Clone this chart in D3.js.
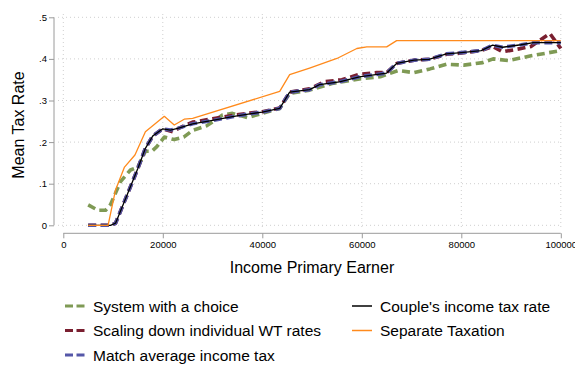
<!DOCTYPE html>
<html>
<head>
<meta charset="utf-8">
<script src="https://cdn.jsdelivr.net/npm/d3@7"></script>
<style>
  body { margin: 0; background: #fff; }
  svg { display: block; }
  text { font-family: "Liberation Sans", Arial, sans-serif; fill: #000; }
</style>
</head>
<body>
<svg id="chart" width="575" height="367"></svg>
<script>
// ---- data ----
const xTicks = [0, 20000, 40000, 60000, 80000, 100000];
const yTicks = [0, 0.1, 0.2, 0.3, 0.4, 0.5];
const yTickLabels = ["0", ".1", ".2", ".3", ".4", ".5"];

const choiceX = [5000, 7000, 8500, 9500, 11500, 13500, 15000, 16500, 17800, 18800, 20300, 22300, 24200, 26000, 28800, 32000, 34000, 37000, 40000, 43500, 45500, 49500, 54000, 59500, 63700, 67300, 70500, 73700, 77000, 80500, 84300, 86400, 89500, 93800, 100000];
const choiceY = [0.049, 0.036, 0.036, 0.05, 0.105, 0.133, 0.14, 0.178, 0.178, 0.189, 0.212, 0.206, 0.212, 0.228, 0.239, 0.265, 0.269, 0.259, 0.269, 0.281, 0.317, 0.325, 0.341, 0.352, 0.357, 0.372, 0.367, 0.376, 0.387, 0.385, 0.391, 0.4, 0.396, 0.407, 0.42];

const coupleX = [5000, 9500, 10500, 13000, 15000, 16500, 18000, 20000, 21500, 23000, 26000, 30000, 34000, 37500, 40000, 43500, 45500, 49500, 51500, 55500, 59500, 65000, 67000, 70500, 73500, 77000, 80000, 84000, 86300, 88300, 92000, 94500, 100000];
const coupleY = [0, 0, 0.005, 0.078, 0.137, 0.185, 0.215, 0.232, 0.229, 0.233, 0.244, 0.252, 0.261, 0.268, 0.272, 0.281, 0.32, 0.326, 0.338, 0.345, 0.357, 0.366, 0.389, 0.397, 0.399, 0.412, 0.415, 0.42, 0.433, 0.428, 0.434, 0.439, 0.439];

const matchX = [5000, 9500, 10500, 13000, 15000, 16500, 18000, 20000, 21500, 23000, 26000, 30000, 34000, 37500, 40000, 43500, 45500, 49500, 51500, 55500, 59500, 65000, 67000, 70500, 73500, 77000, 80000, 84000, 86300, 88300, 92000, 94500, 100000];
const matchY = [0, 0, 0.005, 0.078, 0.137, 0.185, 0.215, 0.232, 0.229, 0.233, 0.244, 0.252, 0.261, 0.268, 0.272, 0.281, 0.32, 0.326, 0.338, 0.345, 0.357, 0.366, 0.389, 0.397, 0.399, 0.412, 0.415, 0.42, 0.433, 0.428, 0.434, 0.439, 0.439];

const scalingX = [5000, 9500, 10500, 13000, 15000, 16500, 18000, 20000, 22000, 23500, 26000, 30000, 34000, 37500, 40000, 43500, 45500, 49500, 52500, 56000, 59500, 63000, 65000, 67000, 70500, 73500, 77000, 80000, 84000, 86300, 88300, 92000, 94000, 97800, 100000];
const scalingY = [0, 0, 0.005, 0.078, 0.137, 0.185, 0.215, 0.232, 0.225, 0.235, 0.248, 0.256, 0.264, 0.27, 0.273, 0.282, 0.32, 0.328, 0.345, 0.35, 0.363, 0.367, 0.367, 0.389, 0.397, 0.399, 0.411, 0.414, 0.42, 0.43, 0.417, 0.425, 0.43, 0.461, 0.425];

const separateX = [5000, 9000, 10500, 12300, 14400, 16500, 20300, 22300, 24300, 26000, 43500, 45500, 49500, 55000, 59000, 61000, 65000, 67000, 100000];
const separateY = [0, 0, 0.085, 0.14, 0.169, 0.225, 0.262, 0.241, 0.255, 0.257, 0.322, 0.362, 0.378, 0.401, 0.425, 0.429, 0.429, 0.444, 0.444];

const seriesNames = ["System with a choice", "Scaling down individual WT rates", "Match average income tax", "Couple's income tax rate", "Separate Taxation"];

// ---- styles ----
const series = [
  { name: seriesNames[0], xs: choiceX, ys: choiceY, color: "#7f9a55", width: 3.6, dash: "8,4.5" },
  { name: seriesNames[1], xs: scalingX, ys: scalingY, color: "#7a1f30", width: 3.6, dash: "8,4.5" },
  { name: seriesNames[2], xs: matchX, ys: matchY, color: "#5557a8", width: 3.6, dash: "8,4.5" },
  { name: seriesNames[3], xs: coupleX, ys: coupleY, color: "#000000", width: 1.3, dash: null },
  { name: seriesNames[4], xs: separateX, ys: separateY, color: "#ff8a1c", width: 1.3, dash: null }
];

const svg = d3.select("#chart");
const x = d3.scaleLinear().domain([0, 100000]).range([63.3, 560.8]);
const y = d3.scaleLinear().domain([0, 0.5]).range([225.3, 17.3]);

// grid
const grid = svg.append("g");
grid.selectAll(".hg").data(yTicks).enter().append("line")
  .attr("x1", 58).attr("x2", 561)
  .attr("y1", d => y(d)).attr("y2", d => y(d))
  .attr("stroke", "#cfcfcf").attr("stroke-width", 1).attr("stroke-dasharray", "1,3");
grid.selectAll(".vg").data(xTicks).enter().append("line")
  .attr("x1", d => x(d)).attr("x2", d => x(d))
  .attr("y1", 14).attr("y2", 229)
  .attr("stroke", "#cfcfcf").attr("stroke-width", 1).attr("stroke-dasharray", "1,3");

// y axis
const yAxis = d3.axisLeft(y).tickValues(yTicks).tickFormat((d, i) => yTickLabels[i]).tickSize(5).tickPadding(2);
const gy = svg.append("g").attr("transform", "translate(54,0)").call(yAxis);
gy.select(".domain").attr("stroke", "#9a9a9a").attr("d", `M0,${y(0.5)}V${y(0)}`);
gy.selectAll(".tick line").attr("stroke", "#9a9a9a");
gy.selectAll(".tick text").attr("font-size", 9.5).attr("font-family", "Liberation Sans, Arial, sans-serif");

// x axis
const xAxis = d3.axisBottom(x).tickValues(xTicks).tickFormat(d3.format("d")).tickSize(5).tickPadding(3);
const gx = svg.append("g").attr("transform", "translate(0,233.3)").call(xAxis);
gx.select(".domain").attr("stroke", "#9a9a9a").attr("d", `M${x(0)},0H${x(100000)}`);
gx.selectAll(".tick line").attr("stroke", "#9a9a9a");
gx.selectAll(".tick text").attr("font-size", 9.5).attr("font-family", "Liberation Sans, Arial, sans-serif");

// axis titles
svg.append("text").attr("x", 312).attr("y", 273).attr("text-anchor", "middle")
  .attr("font-size", 16).text("Income Primary Earner");
svg.append("text").attr("transform", "translate(24,125) rotate(-90)").attr("text-anchor", "middle")
  .attr("font-size", 16).text("Mean Tax Rate");

// lines
const line = d3.line().x(d => x(d[0])).y(d => y(d[1]));
series.forEach(s => {
  const pts = s.xs.map((v, i) => [v, s.ys[i]]);
  svg.append("path").datum(pts)
    .attr("d", line)
    .attr("fill", "none")
    .attr("stroke", s.color)
    .attr("stroke-width", s.width)
    .attr("stroke-linejoin", "round")
    .attr("stroke-dasharray", s.dash);
});

// legend
const legendPos = [
  { x: 65, y: 306 }, { x: 65, y: 330.5 }, { x: 65, y: 355 },
  { x: 352, y: 306 }, { x: 352, y: 330.5 }
];
series.forEach((s, i) => {
  const p = legendPos[i];
  const g = svg.append("g");
  g.append("line").attr("x1", p.x).attr("x2", p.x + 20).attr("y1", p.y).attr("y2", p.y)
    .attr("stroke", s.color).attr("stroke-width", s.dash ? 3 : 1.5)
    .attr("stroke-dasharray", s.dash ? "8,3.5" : null);
  g.append("text").attr("x", p.x + 28).attr("y", p.y + 5.5)
    .attr("font-size", 15.5).text(s.name);
});
</script>
</body>
</html>
